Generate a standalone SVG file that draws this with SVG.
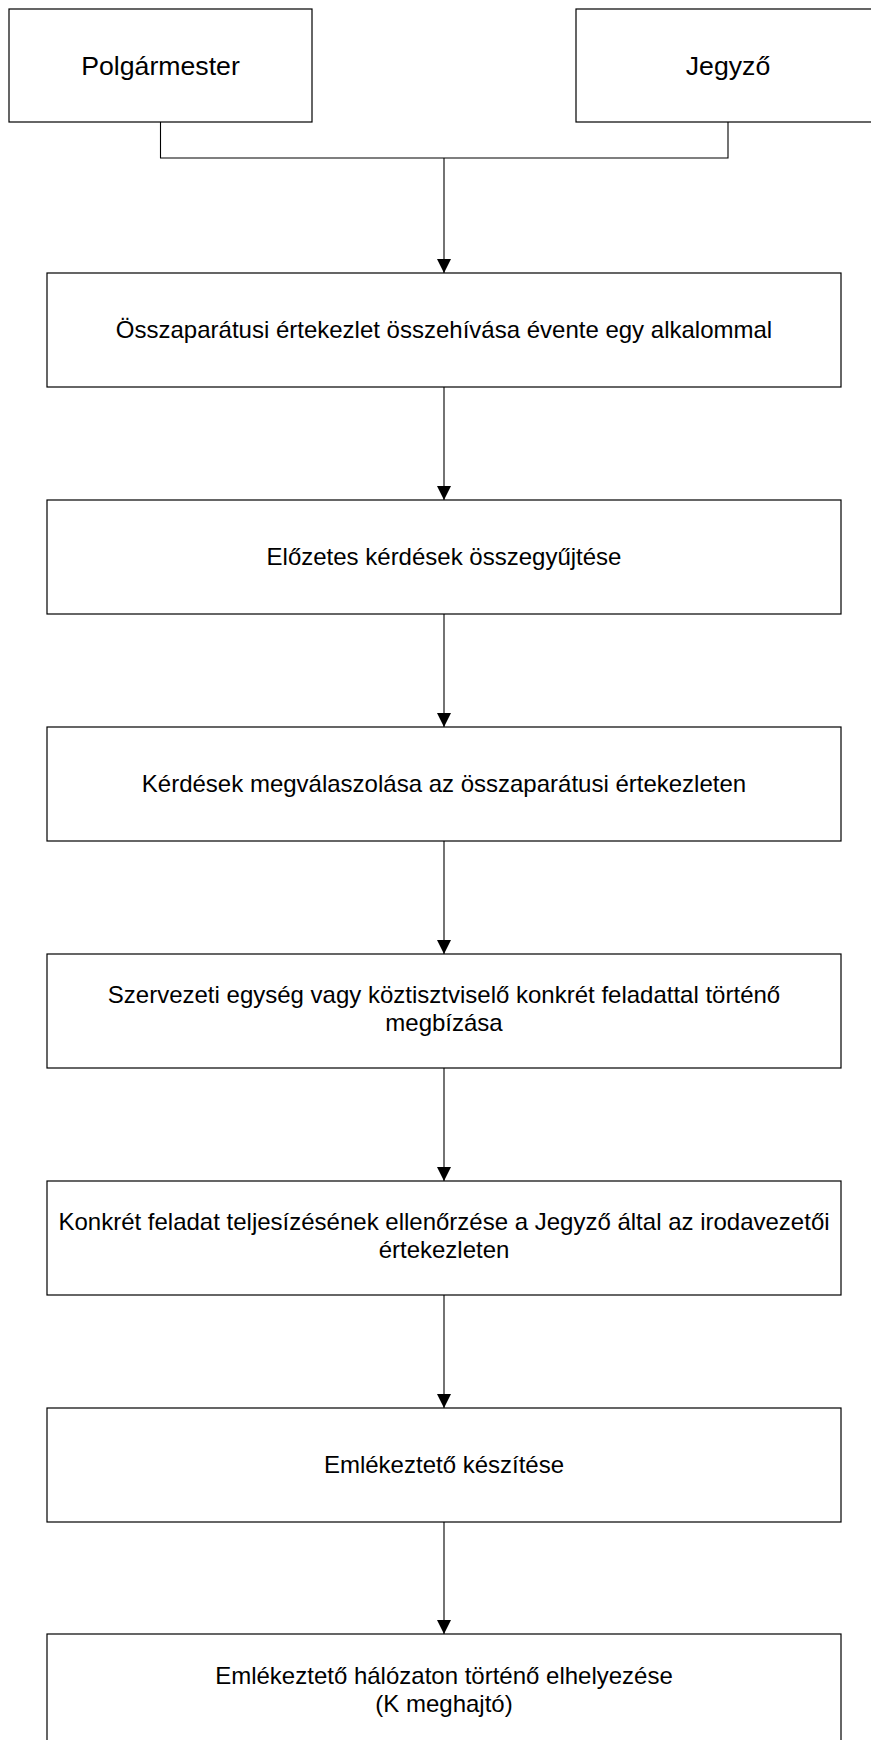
<svg xmlns="http://www.w3.org/2000/svg" width="871" height="1740" viewBox="0 0 871 1740">
  <style>
    .box { fill: #ffffff; stroke: #000000; stroke-width: 1.2; }
    .lbl { font-family: "Liberation Sans", Arial, sans-serif; font-size: 24px; fill: #000000; text-anchor: middle; }
    .head { font-size: 26.67px; }
    .wire { fill: none; stroke: #000000; stroke-width: 1.1; }
  </style>
  <defs>
    <marker id="arrow" markerUnits="userSpaceOnUse" markerWidth="14" markerHeight="14" refX="14" refY="7" orient="auto">
      <path d="M0,0 L14,7 L0,14 z" fill="#000000"/>
    </marker>
  </defs>
  <rect width="871" height="1740" fill="#ffffff"/>

  <!-- connectors -->
  <g id="connectors">
    <path class="wire" d="M160.5,122 V158 H728 V122"/>
    <path class="wire" d="M444,158 V273" marker-end="url(#arrow)"/>
    <path class="wire" d="M444,387 V500" marker-end="url(#arrow)"/>
    <path class="wire" d="M444,614 V727" marker-end="url(#arrow)"/>
    <path class="wire" d="M444,841 V954" marker-end="url(#arrow)"/>
    <path class="wire" d="M444,1068 V1181" marker-end="url(#arrow)"/>
    <path class="wire" d="M444,1295 V1408" marker-end="url(#arrow)"/>
    <path class="wire" d="M444,1522 V1634" marker-end="url(#arrow)"/>
  </g>

  <!-- top row -->
  <g id="polgarmester">
    <rect class="box" x="9" y="9" width="303" height="113"/>
    <text class="lbl head" x="160.5" y="74.5">Polgármester</text>
  </g>
  <g id="jegyzo">
    <rect class="box" x="576" y="9" width="304" height="113"/>
    <text class="lbl head" x="728" y="74.5">Jegyző</text>
  </g>

  <!-- process steps -->
  <g id="step1">
    <rect class="box" x="47" y="273" width="794" height="114"/>
    <text class="lbl" x="444" y="338.3">Összaparátusi értekezlet összehívása évente egy alkalommal</text>
  </g>
  <g id="step2">
    <rect class="box" x="47" y="500" width="794" height="114"/>
    <text class="lbl" x="444" y="565.3">Előzetes kérdések összegyűjtése</text>
  </g>
  <g id="step3">
    <rect class="box" x="47" y="727" width="794" height="114"/>
    <text class="lbl" x="444" y="792.3">Kérdések megválaszolása az összaparátusi értekezleten</text>
  </g>
  <g id="step4">
    <rect class="box" x="47" y="954" width="794" height="114"/>
    <text class="lbl" x="444" y="1002.5">Szervezeti egység vagy köztisztviselő konkrét feladattal történő</text>
    <text class="lbl" x="444" y="1030.5">megbízása</text>
  </g>
  <g id="step5">
    <rect class="box" x="47" y="1181" width="794" height="114"/>
    <text class="lbl" x="444" y="1229.5">Konkrét feladat teljesízésének ellenőrzése a Jegyző által az irodavezetői</text>
    <text class="lbl" x="444" y="1257.5">értekezleten</text>
  </g>
  <g id="step6">
    <rect class="box" x="47" y="1408" width="794" height="114"/>
    <text class="lbl" x="444" y="1473.3">Emlékeztető készítése</text>
  </g>
  <g id="step7">
    <rect class="box" x="47" y="1634" width="794" height="114"/>
    <text class="lbl" x="444" y="1683.5">Emlékeztető hálózaton történő elhelyezése</text>
    <text class="lbl" x="444" y="1711.5">(K meghajtó)</text>
  </g>
</svg>
